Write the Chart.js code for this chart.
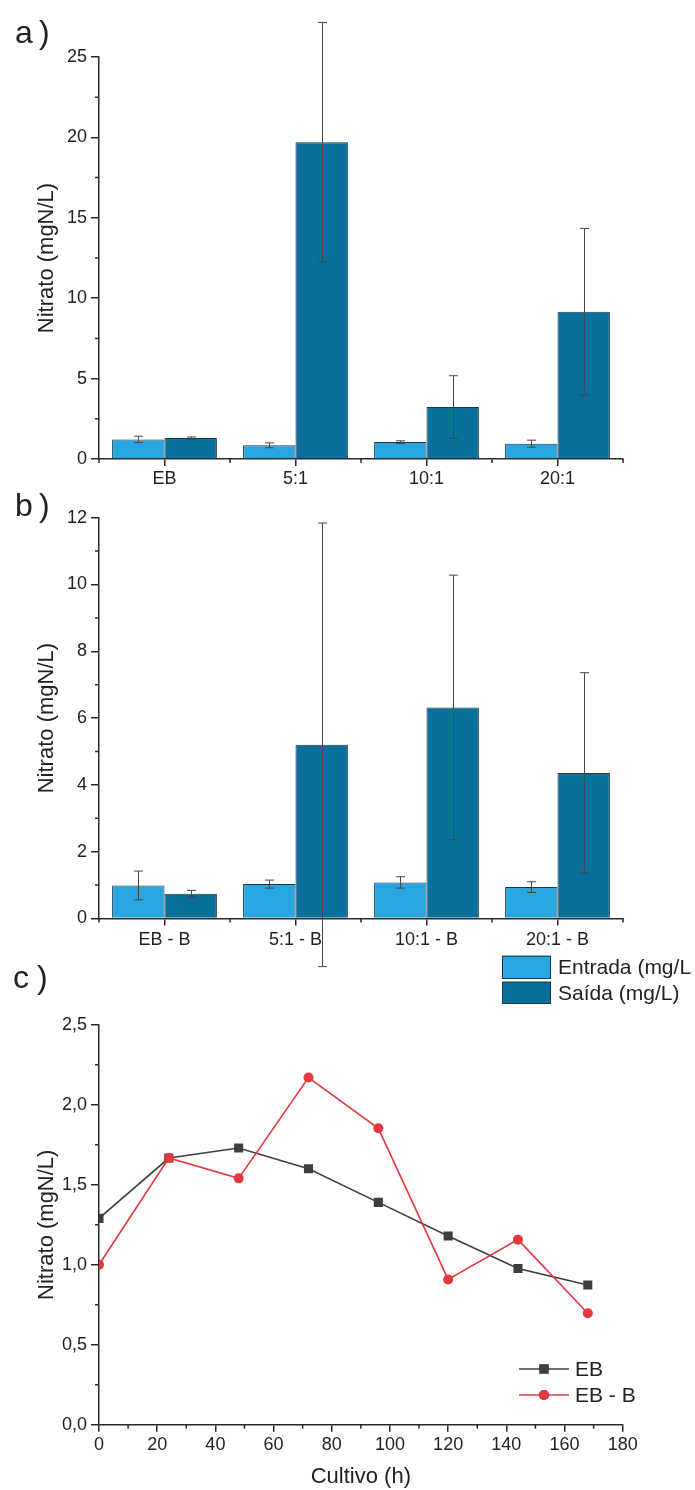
<!DOCTYPE html>
<html><head><meta charset="utf-8">
<script src="https://cdn.jsdelivr.net/npm/chart.js@4.4.0/dist/chart.umd.min.js"></script>
<style>
html,body{margin:0;padding:0;background:#fff;}
#wrap{position:relative;width:695px;height:1490px;overflow:hidden;background:#fff;}
canvas{position:absolute;left:0;}
</style></head><body>
<div id="wrap">
<canvas id="ca" width="695" height="490" style="top:0px"></canvas>
<canvas id="cb" width="695" height="520" style="top:490px"></canvas>
<canvas id="cc" width="695" height="480" style="top:1010px"></canvas>
</div>
<script>
// ---------- DATA ----------
const categoriesA = ['EB', '5:1', '10:1', '20:1'];
const entradaA    = [1.22, 0.85, 1.05, 0.95];
const entradaAErr = [0.20, 0.15, 0.08, 0.22];
const saidaA      = [1.30, 19.7, 3.23, 9.15];
const saidaAErr   = [0.07, 7.45, 1.95, 5.19];

const categoriesB = ['EB - B', '5:1 - B', '10:1 - B', '20:1 - B'];
const entradaB    = [0.99, 1.03, 1.08, 0.94];
const entradaBErr = [0.43, 0.12, 0.17, 0.16];
const saidaB      = [0.74, 5.20, 6.32, 4.36];
const saidaBErr   = [0.10, 6.64, 3.96, 3.00];

const hours      = [0, 24, 48, 72, 96, 120, 144, 168];
const nitratoEB  = [1.29, 1.667, 1.73, 1.60, 1.39, 1.18, 0.976, 0.873];
const nitratoEBB = [1.00, 1.667, 1.54, 2.17, 1.853, 0.908, 1.157, 0.697];

const yTicksA = [0, 5, 10, 15, 20, 25];
const yTicksB = [0, 2, 4, 6, 8, 10, 12];
const yTicksC = [0, 0.5, 1.0, 1.5, 2.0, 2.5];
const xTicksC = [0, 20, 40, 60, 80, 100, 120, 140, 160, 180];

const seriesNames = ['Entrada (mg/L', 'Saída (mg/L)'];
const lineNames = ['EB', 'EB - B'];

// ---------- STYLE ----------
const FONT = '"Liberation Sans", Arial, Helvetica, sans-serif';
const AX = '#2a2a2a';
const TXT = '#222222';
const C_ENT = '#29a6e0';
const C_SAI = '#08709a';
const C_BORDER = '#1d3847';
const C_ERR = '#474747';
const C_EB = '#3e3e3e';
const C_EBB = '#e3383e';

Chart.defaults.font.family = FONT;
Chart.defaults.color = TXT;

const errorBars = {
  id: 'errorBars',
  afterDatasetsDraw(chart) {
    const ctx = chart.ctx, ys = chart.scales.y;
    chart.data.datasets.forEach((ds, di) => {
      if (!ds.errors) return;
      const meta = chart.getDatasetMeta(di);
      meta.data.forEach((bar, i) => {
        const v = ds.data[i], e = ds.errors[i];
        const yt = ys.getPixelForValue(v + e), yb = ys.getPixelForValue(v - e);
        const x = Math.round(bar.x) + 0.5;
        ctx.save();
        ctx.strokeStyle = C_ERR; ctx.lineWidth = 1;
        ctx.beginPath();
        ctx.moveTo(x, yt); ctx.lineTo(x, yb);
        ctx.moveTo(x - 4.5, yt); ctx.lineTo(x + 4.5, yt);
        ctx.moveTo(x - 4.5, yb); ctx.lineTo(x + 4.5, yb);
        ctx.stroke();
        ctx.restore();
      });
    });
  }
};

const minorTicks = {
  id: 'minorTicks',
  afterDraw(chart) {
    const ctx = chart.ctx, xs = chart.scales.x, ys = chart.scales.y, ca = chart.chartArea;
    ctx.save();
    ctx.strokeStyle = AX; ctx.lineWidth = 1.5;
    ctx.beginPath();
    const yst = ys.ticks[1].value - ys.ticks[0].value;
    for (let k = 0; k < ys.ticks.length - 1; k++) {
      const p = ys.getPixelForValue(ys.ticks[k].value + yst / 2);
      ctx.moveTo(ca.left - 4, p); ctx.lineTo(ca.left, p);
    }
    if (xs.type === 'category') {
      const n = chart.data.labels.length;
      for (let i = 0; i <= n; i++) {
        const p = xs.getPixelForValue(i - 0.5);
        ctx.moveTo(p, ca.bottom); ctx.lineTo(p, ca.bottom + 4);
      }
    } else {
      const xst = xs.ticks[1].value - xs.ticks[0].value;
      for (let k = 0; k < xs.ticks.length - 1; k++) {
        const p = xs.getPixelForValue(xs.ticks[k].value + xst / 2);
        ctx.moveTo(p, ca.bottom); ctx.lineTo(p, ca.bottom + 4);
      }
    }
    ctx.stroke();
    ctx.restore();
  }
};

function panelLabel(ctx, letter, x, xp, baseline) {
  ctx.save();
  ctx.fillStyle = TXT;
  ctx.font = '32px ' + FONT;
  ctx.textBaseline = 'alphabetic';
  ctx.textAlign = 'left';
  ctx.fillText(letter, x, baseline);
  ctx.fillText(')', xp, baseline);
  ctx.restore();
}

function barAxes(ticksArr, xHeight, labelPad) {
  return {
    x: {
      type: 'category', offset: true,
      grid: { display: true, drawOnChartArea: false, drawTicks: true, tickLength: 7, color: AX, lineWidth: 1.5, offset: false },
      border: { display: true, color: AX, width: 1.5 },
      ticks: { font: { size: 18 }, color: TXT, padding: labelPad, maxRotation: 0, autoSkip: false },
      afterFit: s => { s.height = xHeight; }
    },
    y: {
      min: ticksArr[0], max: ticksArr[ticksArr.length - 1],
      ticks: { stepSize: ticksArr[1] - ticksArr[0], font: { size: 18 }, color: TXT, padding: 4 },
      grid: { display: true, drawOnChartArea: false, drawTicks: true, tickLength: 8, color: AX, lineWidth: 1.5 },
      border: { display: true, color: AX, width: 1.5 },
      title: { display: true, text: 'Nitrato (mgN/L)', font: { size: 22 }, color: TXT, padding: { top: 34, bottom: 0 } },
      afterFit: s => { s.width = 99; }
    }
  };
}

function barDatasets(ent, entErr, sai, saiErr) {
  return [
    { label: seriesNames[0], data: ent, errors: entErr, backgroundColor: C_ENT, borderColor: C_BORDER, borderWidth: 1,
      categoryPercentage: 0.8, barPercentage: 1.0 },
    { label: seriesNames[1], data: sai, errors: saiErr, backgroundColor: C_SAI, borderColor: C_BORDER, borderWidth: 1,
      categoryPercentage: 0.8, barPercentage: 1.0 }
  ];
}

const commonOpts = {
  responsive: false, animation: false, devicePixelRatio: 1,
  plugins: { legend: { display: false }, tooltip: { enabled: false } }
};

// ---------- PANEL A ----------
new Chart(document.getElementById('ca'), {
  type: 'bar',
  data: { labels: categoriesA, datasets: barDatasets(entradaA, entradaAErr, saidaA, saidaAErr) },
  options: Object.assign({}, commonOpts, {
    layout: { padding: { left: 0, right: 72, top: 57, bottom: 0 } },
    scales: barAxes(yTicksA, 31, 2)
  }),
  plugins: [errorBars, minorTicks, {
    id: 'decorA',
    afterDraw(chart) { panelLabel(chart.ctx, 'a', 15, 39, 43); }
  }]
});

// ---------- PANEL B ----------
new Chart(document.getElementById('cb'), {
  type: 'bar',
  data: { labels: categoriesB, datasets: barDatasets(entradaB, entradaBErr, saidaB, saidaBErr) },
  options: Object.assign({}, commonOpts, {
    layout: { padding: { left: 0, right: 72, top: 27.7, bottom: 0 } },
    scales: barAxes(yTicksB, 91.5, 4)
  }),
  plugins: [errorBars, minorTicks, {
    id: 'decorB',
    afterDraw(chart) {
      const ctx = chart.ctx;
      panelLabel(ctx, 'b', 15, 39, 26);
      panelLabel(ctx, 'c', 13, 37, 498);
      // legend
      const items = [
        { c: C_ENT, t: chart.data.datasets[0].label, y: 465.7, h: 23.3 },
        { c: C_SAI, t: chart.data.datasets[1].label, y: 491.7, h: 22.3 }
      ];
      ctx.save();
      items.forEach(it => {
        ctx.fillStyle = it.c;
        ctx.fillRect(502, it.y, 49, it.h);
        ctx.strokeStyle = C_BORDER; ctx.lineWidth = 1;
        ctx.strokeRect(502.5, it.y + 0.5, 48, it.h - 1);
        ctx.fillStyle = TXT;
        ctx.font = '21px ' + FONT;
        ctx.textBaseline = 'middle'; ctx.textAlign = 'left';
        ctx.fillText(it.t, 558, it.y + it.h / 2 + 1);
      });
      ctx.restore();
    }
  }]
});

// ---------- PANEL C ----------
const ptsEB = hours.map((h, i) => ({ x: h, y: nitratoEB[i] }));
const ptsEBB = hours.map((h, i) => ({ x: h, y: nitratoEBB[i] }));

new Chart(document.getElementById('cc'), {
  type: 'line',
  data: {
    datasets: [
      { label: lineNames[0], data: ptsEB, borderColor: C_EB, borderWidth: 1.6, pointStyle: 'rect', pointRadius: 6.4,
        pointBackgroundColor: C_EB, pointBorderColor: C_EB, pointBorderWidth: 0, order: 1, tension: 0 },
      { label: lineNames[1], data: ptsEBB, borderColor: C_EBB, borderWidth: 1.6, pointStyle: 'circle', pointRadius: 5,
        pointBackgroundColor: C_EBB, pointBorderColor: C_EBB, pointBorderWidth: 0, order: 0, tension: 0 }
    ]
  },
  options: Object.assign({}, commonOpts, {
    layout: { padding: { left: 0, right: 72.3, top: 12.7, bottom: 0 } },
    scales: {
      x: {
        type: 'linear', min: xTicksC[0], max: xTicksC[xTicksC.length - 1],
        ticks: { stepSize: xTicksC[1] - xTicksC[0], font: { size: 18 }, color: TXT, padding: 2.5, maxRotation: 0 },
        grid: { display: true, drawOnChartArea: false, drawTicks: true, tickLength: 7, color: AX, lineWidth: 1.5 },
        border: { display: true, color: AX, width: 1.5 },
        title: { display: true, text: 'Cultivo (h)', font: { size: 22 }, color: TXT, padding: { top: 0, bottom: 0 } },
        afterFit: s => { s.height = 65.3; }
      },
      y: {
        min: yTicksC[0], max: yTicksC[yTicksC.length - 1],
        ticks: { stepSize: yTicksC[1] - yTicksC[0], font: { size: 18 }, color: TXT, padding: 4,
          callback: v => Number(v).toFixed(1).replace('.', ',') },
        grid: { display: true, drawOnChartArea: false, drawTicks: true, tickLength: 8, color: AX, lineWidth: 1.5 },
        border: { display: true, color: AX, width: 1.5 },
        title: { display: true, text: 'Nitrato (mgN/L)', font: { size: 22 }, color: TXT, padding: { top: 34, bottom: 0 } },
        afterFit: s => { s.width = 99; }
      }
    }
  }),
  plugins: [minorTicks, {
    id: 'legendC',
    afterDraw(chart) {
      const ctx = chart.ctx;
      const rows = [{ ds: chart.data.datasets[0], y: 359 }, { ds: chart.data.datasets[1], y: 385 }];
      ctx.save();
      rows.forEach(r => {
        ctx.strokeStyle = r.ds.borderColor; ctx.lineWidth = 1.6;
        ctx.beginPath(); ctx.moveTo(519, r.y); ctx.lineTo(569, r.y); ctx.stroke();
        Chart.helpers.drawPoint(ctx, { pointStyle: r.ds.pointStyle, radius: r.ds.pointRadius, borderWidth: 0 }, 544, r.y);
        ctx.fillStyle = r.ds.pointBackgroundColor;
        ctx.beginPath();
        if (r.ds.pointStyle === 'rect') {
          const s = r.ds.pointRadius * Math.SQRT1_2;
          ctx.rect(544 - s, r.y - s, 2 * s, 2 * s);
        } else {
          ctx.arc(544, r.y, r.ds.pointRadius, 0, Math.PI * 2);
        }
        ctx.fill();
        ctx.fillStyle = TXT;
        ctx.font = '21px ' + FONT;
        ctx.textBaseline = 'middle'; ctx.textAlign = 'left';
        ctx.fillText(r.ds.label, 575, r.y + 1);
      });
      ctx.restore();
    }
  }]
});
</script>
</body></html>
